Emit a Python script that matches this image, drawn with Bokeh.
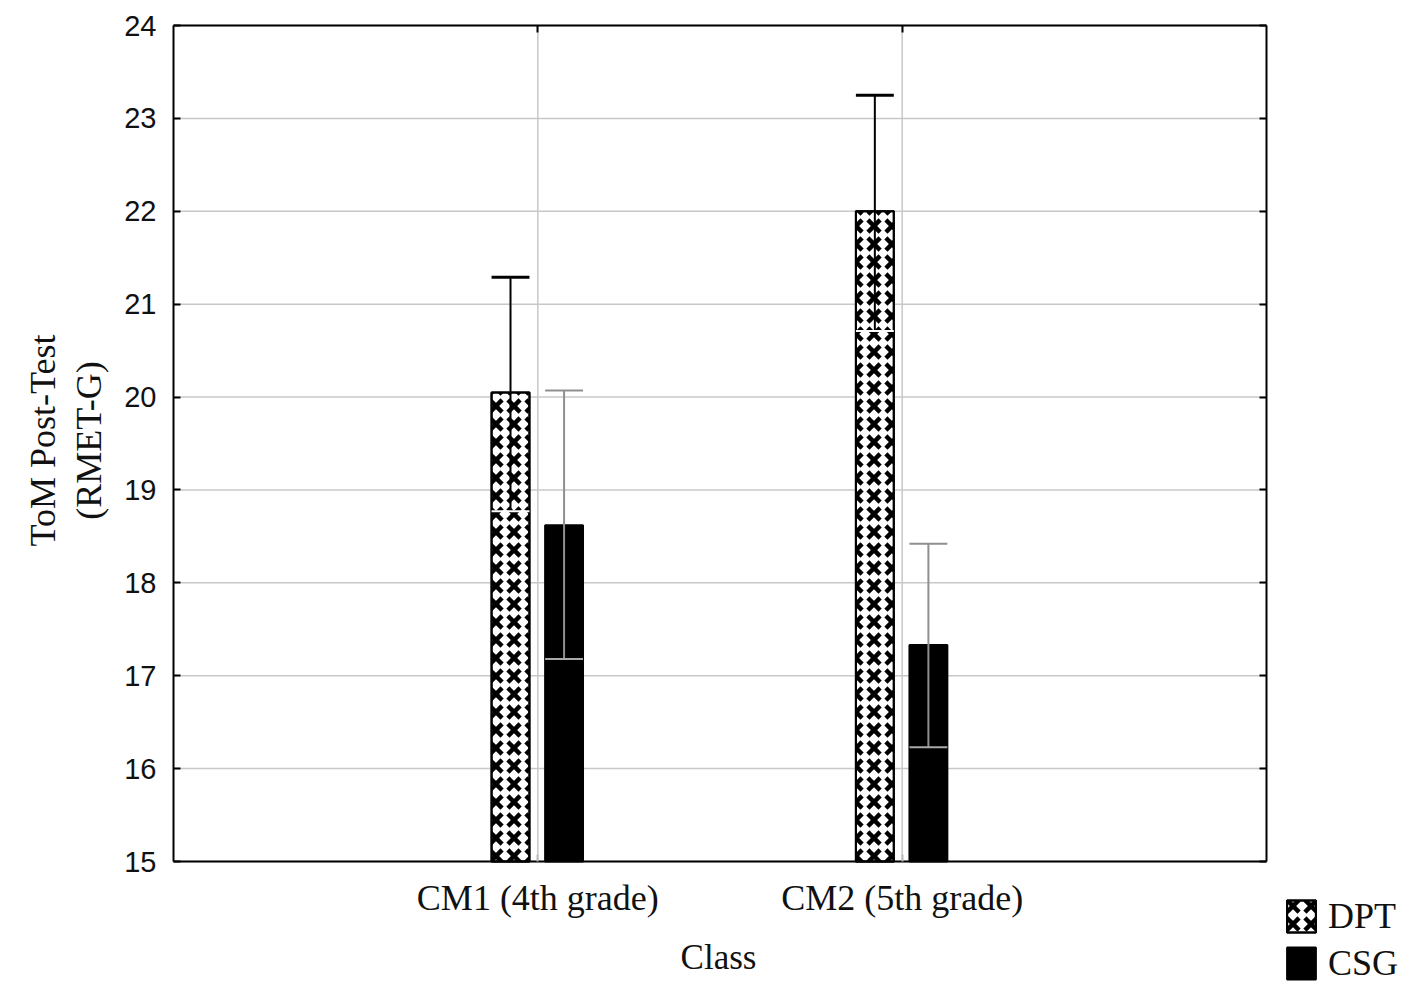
import math
from bokeh.plotting import figure
from bokeh.models import (Range1d, FixedTicker, LinearAxis, Legend, LegendItem,
                          ColumnDataSource, Label)
from bokeh.embed import file_html
from bokeh.resources import INLINE

# ---- data ----
classes = ["CM1 (4th grade)", "CM2 (5th grade)"]
groups = ["DPT", "CSG"]
dpt_mean = [20.05, 22.00]
dpt_upper = [21.29, 23.25]
dpt_lower = [18.77, 20.71]
csg_mean = [18.62, 17.33]
csg_upper = [20.07, 18.42]
csg_lower = [17.18, 16.23]
y_ticks = [15, 16, 17, 18, 19, 20, 21, 22, 23, 24]

# ---- layout constants (canvas pixels) ----
W, H = 1409, 991
FL, FR, FT, FB = 173, 1266, 25, 861          # plot box edges
XMIN, XMAX = 0, 3
YMIN, YMAX = y_ticks[0], y_ticks[-1]
xs = (FR - FL) / (XMAX - XMIN)
ys = (FB - FT) / (YMAX - YMIN)
x_range = Range1d(XMIN - FL / xs, XMAX + (W - FR) / xs)
y_range = Range1d(YMIN - (H - FB) / ys, YMAX + FT / ys)

BAR_W = 0.104
OFF_DPT = -0.075
OFF_CSG = 0.072
class_pos = [i + 1 for i in range(len(classes))]
SERIF = "Liberation Serif"
SANS = "Liberation Sans"
INK = "#111111"

p = figure(width=W, height=H, x_range=x_range, y_range=y_range,
           x_axis_location=None, y_axis_location=None,
           output_backend="svg", toolbar_location=None,
           min_border=0, min_border_left=0, min_border_right=0,
           min_border_top=0, min_border_bottom=0)
p.background_fill_color = "white"
p.border_fill_color = "white"
p.outline_line_color = None
p.xgrid.visible = False
p.ygrid.visible = False

# grid lines (at tick values, spanning the plot box)
p.segment(x0=XMIN, x1=XMAX, y0=y_ticks, y1=y_ticks, line_color="#c8c8c8", line_width=1.5)
p.segment(x0=class_pos, x1=class_pos, y0=YMIN, y1=YMAX, line_color="#c8c8c8", line_width=1.5)

def style_axis(ax, show_labels=True):
    ax.axis_line_color = "black"
    ax.axis_line_width = 2
    ax.major_tick_in = 7
    ax.major_tick_out = 0
    ax.major_tick_line_color = "black"
    ax.major_tick_line_width = 2
    ax.minor_tick_line_color = None
    if not show_labels:
        ax.major_label_text_font_size = "0px"
        ax.major_label_standoff = 0

# bottom axis
xa = LinearAxis(fixed_location=YMIN, bounds=(XMIN, XMAX), ticker=FixedTicker(ticks=class_pos))
xa.major_label_overrides = {c: lab for c, lab in zip(class_pos, classes)}
xa.major_label_text_font = SERIF
xa.major_label_text_font_size = "36px"
xa.major_label_text_color = INK
xa.major_label_standoff = 16
style_axis(xa)
xa.major_tick_line_color = "#bbbbbb"
p.add_layout(xa, "below")

# left axis
ya = LinearAxis(fixed_location=XMIN, bounds=(YMIN, YMAX), ticker=FixedTicker(ticks=y_ticks))
ya.major_label_text_font = SANS
ya.major_label_text_font_size = "29px"
ya.major_label_text_color = INK
ya.major_label_standoff = 17
style_axis(ya)
p.add_layout(ya, "left")

# top / right axes (ticks only)
top = LinearAxis(fixed_location=YMAX, bounds=(XMIN, XMAX), ticker=FixedTicker(ticks=class_pos))
style_axis(top, False)
p.add_layout(top, "above")
right = LinearAxis(fixed_location=XMAX, bounds=(YMIN, YMAX), ticker=FixedTicker(ticks=y_ticks))
style_axis(right, False)
p.add_layout(right, "right")

# axis titles
p.add_layout(Label(x=42, y=H - 440, x_units="screen", y_units="screen", text="ToM Post-Test",
                   angle=math.pi / 2, text_align="center", text_baseline="middle",
                   text_font=SERIF, text_font_size="36px", text_color=INK))
p.add_layout(Label(x=88, y=H - 440, x_units="screen", y_units="screen", text="(RMET-G)",
                   angle=math.pi / 2, text_align="center", text_baseline="middle",
                   text_font=SERIF, text_font_size="36px", text_color=INK))
p.add_layout(Label(x=718, y=H - 957, x_units="screen", y_units="screen", text="Class",
                   text_align="center", text_baseline="middle",
                   text_font=SERIF, text_font_size="35px", text_color=INK))

# bars
dpt_x = [c + OFF_DPT for c in class_pos]
csg_x = [c + OFF_CSG for c in class_pos]
src_d = ColumnDataSource(dict(x=dpt_x, top=dpt_mean, up=dpt_upper, lo=dpt_lower,
                              x0=[x - BAR_W / 2 for x in dpt_x], x1=[x + BAR_W / 2 for x in dpt_x]))
src_c = ColumnDataSource(dict(x=csg_x, top=csg_mean, up=csg_upper, lo=csg_lower,
                              x0=[x - BAR_W / 2 for x in csg_x], x1=[x + BAR_W / 2 for x in csg_x]))

r_d = p.vbar(x="x", top="top", bottom=YMIN, width=BAR_W, source=src_d,
             fill_color="white", line_color="black", line_width=2,
             hatch_pattern="right_diagonal_dash", hatch_color="black",
             hatch_scale=18, hatch_weight=4.5)
r_d2 = p.vbar(x="x", top="top", bottom=YMIN, width=BAR_W, source=src_d,
              fill_alpha=0, line_color="black", line_width=2,
              hatch_pattern="left_diagonal_dash", hatch_color="black",
              hatch_scale=18, hatch_weight=4.5)
r_c = p.vbar(x="x", top="top", bottom=YMIN, width=BAR_W, source=src_c,
             fill_color="black", line_color="black", line_width=2)

# error bars DPT
p.segment(x0="x", y0="top", x1="x", y1="up", source=src_d, line_color="black", line_width=2)
p.segment(x0="x0", y0="up", x1="x1", y1="up", source=src_d, line_color="black", line_width=3)
p.segment(x0="x", y0="top", x1="x", y1="lo", source=src_d, line_color="black", line_width=2)
p.segment(x0="x0", y0="lo", x1="x1", y1="lo", source=src_d, line_color="white", line_width=2)
# error bars CSG
p.segment(x0="x", y0="lo", x1="x", y1="up", source=src_c, line_color="#8f8f8f", line_width=2)
p.segment(x0="x0", y0="up", x1="x1", y1="up", source=src_c, line_color="#8f8f8f", line_width=2)
p.segment(x0="x0", y0="lo", x1="x1", y1="lo", source=src_c, line_color="#a8a8a8", line_width=2)

# legend (below-right of the plot box)
legend = Legend(items=[LegendItem(label=groups[0], renderers=[r_d, r_d2]),
                       LegendItem(label=groups[1], renderers=[r_c])],
                location=(1283, 7), orientation="vertical",
                label_text_font=SERIF, label_text_font_size="36px", label_text_color=INK,
                glyph_width=36, glyph_height=40, label_height=40, spacing=5,
                padding=0, margin=0, label_standoff=9,
                border_line_alpha=0, background_fill_alpha=0)
p.add_layout(legend, "center")

open("out.html", "w").write(file_html(p, INLINE))
